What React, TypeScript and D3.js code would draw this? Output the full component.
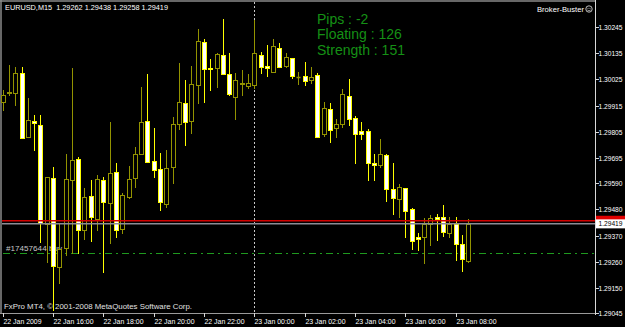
import React from "react";
import * as d3 from "d3";

const symbolHeader = "EURUSD,M15  1.29262 1.29438 1.29258 1.29419";
const brokerName = "Broker-Buster";
const copyright = "FxPro MT4, \u00a9 2001-2008 MetaQuotes Software Corp.";
const infoLines = ["Pips : -2", "Floating : 126", "Strength : 151"];
const orderLabel = "#17457644 buy";

const opens = [1.2993,1.29968,1.29968,1.30052,1.29783,1.2985,1.29833,1.29418,1.29611,1.29238,1.29317,1.29603,1.29691,1.29393,1.29536,1.29439,1.29603,1.29506,1.29636,1.29397,1.29531,1.29611,1.29712,1.2985,1.29682,1.29649,1.29502,1.29657,1.29838,1.29926,1.2985,1.30001,1.30182,1.30075,1.30073,1.30127,1.30048,1.29951,1.30006,1.29997,1.30001,1.30127,1.30081,1.30056,1.30157,1.30081,1.30115,1.30035,1.30039,1.30022,1.30043,1.29796,1.29901,1.29821,1.29838,1.29955,1.29863,1.29808,1.29808,1.29674,1.29666,1.29708,1.29565,1.29523,1.29569,1.29481,1.29364,1.29364,1.29418,1.29448,1.29448,1.2938,1.29418,1.29334,1.29262];
const highs = [1.2998,1.30085,1.30077,1.30077,1.29947,1.29875,1.29875,1.29615,1.29657,1.29422,1.29712,1.30073,1.29699,1.29569,1.29603,1.29624,1.29615,1.29846,1.29674,1.29548,1.29661,1.29741,1.29993,1.30048,1.29821,1.29716,1.29729,1.29867,1.30094,1.30022,1.30081,1.30236,1.30194,1.3011,1.30136,1.30278,1.30136,1.30052,1.30064,1.30048,1.30274,1.3014,1.30169,1.30194,1.30178,1.30136,1.30115,1.30056,1.30098,1.30077,1.30052,1.2993,1.29926,1.29859,1.29985,1.30027,1.29871,1.29846,1.29817,1.29712,1.29775,1.29712,1.29674,1.29586,1.29569,1.29485,1.2938,1.29443,1.29456,1.2946,1.29498,1.29448,1.29448,1.29372,1.29438];
const lows = [1.29896,1.29959,1.29917,1.29779,1.29783,1.29729,1.29343,1.29259,1.29057,1.29171,1.29288,1.29296,1.29296,1.29355,1.29347,1.29393,1.29217,1.29338,1.29364,1.2938,1.29527,1.29573,1.29712,1.29678,1.29615,1.29477,1.29489,1.2959,1.29817,1.2975,1.298,1.29926,1.2993,1.2998,1.29993,1.30048,1.29959,1.29859,1.29959,1.29989,1.29989,1.30052,1.30039,1.30056,1.30077,1.30077,1.30031,1.30006,1.30001,1.3001,1.29783,1.29787,1.29762,1.29783,1.29825,1.29833,1.29674,1.29775,1.29603,1.29603,1.29657,1.29515,1.2946,1.29448,1.29364,1.29313,1.29309,1.29254,1.2933,1.29351,1.29368,1.29364,1.29267,1.29221,1.29258];
const closes = [1.29959,1.29972,1.30052,1.29779,1.29854,1.29842,1.29422,1.29615,1.29242,1.29313,1.29607,1.29687,1.29393,1.29531,1.29448,1.29607,1.2951,1.29632,1.29393,1.2954,1.29607,1.29712,1.29846,1.29678,1.29645,1.2951,1.29653,1.29838,1.2993,1.29846,1.30006,1.30186,1.30068,1.30068,1.30131,1.30048,1.29964,1.30022,1.3001,1.3001,1.30136,1.30077,1.30073,1.30165,1.30077,1.30119,1.30039,1.30037,1.30018,1.30035,1.29783,1.29905,1.29812,1.29838,1.29964,1.29859,1.29796,1.29798,1.29674,1.29666,1.29712,1.29565,1.29527,1.29573,1.29473,1.29347,1.29355,1.29418,1.29443,1.29441,1.29385,1.29418,1.29334,1.29271,1.29419];

const priceLabels = ["1.30245","1.30135","1.30025","1.29915","1.29805","1.29695","1.29590","1.29480","1.29370","1.29260","1.29150","1.29045"];
const timeLabels = ["22 Jan 2009","22 Jan 16:00","22 Jan 18:00","22 Jan 20:00","22 Jan 22:00","23 Jan 00:00","23 Jan 02:00","23 Jan 04:00","23 Jan 06:00","23 Jan 08:00"];
const timeLabelBars = [0, 8, 16, 24, 32, 40, 48, 56, 64, 72];
const separatorBar = 40;
const askPrice = 1.29432;
const bidPrice = 1.29419;
const bidLabel = "1.29419";
const orderPrice = 1.29295;

const W = 625;
const H = 327;
const plotRight = 595;
const plotBottom = 313;
const FONT = "'Liberation Sans', Arial, sans-serif";

export default function App() {
  const x = d3.scaleLinear().domain([0, 74]).range([2.7, 468.2]);
  const y = d3.scaleLinear().domain([1.29045, 1.30245]).range([313, 27]);
  const crisp = (v: number) => Math.round(v) + 0.5;

  const candles = opens.map((o, i) => {
    const c = closes[i];
    const bull = c >= o;
    const cx = crisp(x(i));
    const yo = y(o), yc = y(c);
    const top = Math.round(Math.min(yo, yc)) + 0.5;
    const bot = Math.round(Math.max(yo, yc)) + 0.5;
    const col = bull ? "#939300" : "#ffff00";
    return (
      <g key={i}>
        <line x1={cx} x2={cx} y1={Math.round(y(highs[i]))} y2={Math.round(y(lows[i])) + 1} stroke={col} strokeWidth={1} />
        {bot - top < 1 ? (
          <line x1={cx - 2} x2={cx + 2} y1={top} y2={top} stroke={col} strokeWidth={1.5} />
        ) : (
          <rect x={cx - 2} y={top} width={4} height={bot - top} fill={bull ? "#000000" : "#ffffff"} stroke={col} strokeWidth={1} />
        )}
      </g>
    );
  });

  const sepX = crisp(x(separatorBar));

  return (
    <svg width={W} height={H} style={{ position: "absolute", left: 0, top: 0, background: "#000000" }} fontFamily={FONT}>
      <rect x={0} y={0} width={W} height={H} fill="#000000" />
      {/* frame */}
      <line x1={0} x2={plotRight} y1={1} y2={1} stroke="#8a8a8a" strokeWidth={1.5} />
      <line x1={1} x2={1} y1={0} y2={plotBottom} stroke="#8a8a8a" strokeWidth={1.5} />
      <line x1={0} x2={plotRight} y1={plotBottom + 0.5} y2={plotBottom + 0.5} stroke="#9a9a9a" strokeWidth={1} />
      <line x1={plotRight + 0.5} x2={plotRight + 0.5} y1={0} y2={plotBottom + 2} stroke="#d8d8d8" strokeWidth={1} />

      {/* period separator */}
      <line x1={sepX} x2={sepX} y1={2} y2={plotBottom} stroke="#c8c8c8" strokeWidth={1} strokeDasharray="2,2" />

      {/* order label and line */}
      <text x={6} y={y(orderPrice) - 2} fontSize={8} fill="#c8c8c8" textLength={56} lengthAdjust="spacingAndGlyphs">{orderLabel}</text>
      <line x1={3} x2={plotRight} y1={crisp(y(orderPrice))} y2={crisp(y(orderPrice))} stroke="#1f9a1f" strokeWidth={1} strokeDasharray="7,4,2,4" />

      {candles}

      {/* ask / bid lines */}
      <line x1={2} x2={plotRight} y1={y(askPrice)} y2={y(askPrice)} stroke="#d40000" strokeWidth={1.5} />
      <line x1={2} x2={plotRight} y1={y(bidPrice)} y2={y(bidPrice)} stroke="#8c8c96" strokeWidth={1.5} />

      {/* header */}
      <text x={5} y={10} fontSize={7.5} fill="#ffffff" style={{ whiteSpace: "pre" }} textLength={163} lengthAdjust="spacingAndGlyphs">{symbolHeader}</text>
      <text x={537} y={12} fontSize={7.5} fill="#ffffff" textLength={47} lengthAdjust="spacingAndGlyphs">{brokerName}</text>
      <circle cx={589} cy={9} r={3.2} fill="none" stroke="#d0d0d0" strokeWidth={0.9} />
      <circle cx={588} cy={8.3} r={0.5} fill="#d0d0d0" />
      <circle cx={590} cy={8.3} r={0.5} fill="#d0d0d0" />
      <path d="M587.3,10 Q589,11.6 590.7,10" fill="none" stroke="#d0d0d0" strokeWidth={0.7} />

      {/* info text */}
      {infoLines.map((t, i) => (
        <text key={t} x={317} y={23.5 + i * 15.5} fontSize={14} fill="#159015">{t}</text>
      ))}

      {/* copyright */}
      <text x={4} y={308.5} fontSize={7.5} fill="#e0e0e0" textLength={188} lengthAdjust="spacingAndGlyphs">{copyright}</text>

      {/* right axis */}
      {priceLabels.map((p) => {
        const ty = crisp(y(+p));
        return (
          <g key={p}>
            <line x1={plotRight + 1} x2={plotRight + 4} y1={ty} y2={ty} stroke="#d8d8d8" strokeWidth={1} />
            <text x={598.5} y={ty} dy="0.35em" fontSize={7} fill="#ffffff" textLength={24} lengthAdjust="spacingAndGlyphs">{p}</text>
          </g>
        );
      })}
      {/* ask / bid price boxes */}
      <rect x={596} y={y(askPrice) - 5} width={29} height={9} fill="#e00000" />
      <rect x={596} y={y(bidPrice) - 4.5} width={29} height={9} fill="#ffffff" />
      <text x={598.5} y={y(bidPrice)} dy="0.35em" fontSize={7} fill="#000000" textLength={24} lengthAdjust="spacingAndGlyphs">{bidLabel}</text>

      {/* bottom axis */}
      {timeLabels.map((t, i) => {
        const tx = crisp(x(timeLabelBars[i]));
        return (
          <g key={t}>
            <line x1={tx} x2={tx} y1={plotBottom} y2={plotBottom + 4} stroke="#d8d8d8" strokeWidth={1} />
            <text x={tx} y={324} fontSize={7.5} fill="#ffffff" textLength={t.length === 11 ? 38 : 40} lengthAdjust="spacingAndGlyphs">{t}</text>
          </g>
        );
      })}
    </svg>
  );
}
